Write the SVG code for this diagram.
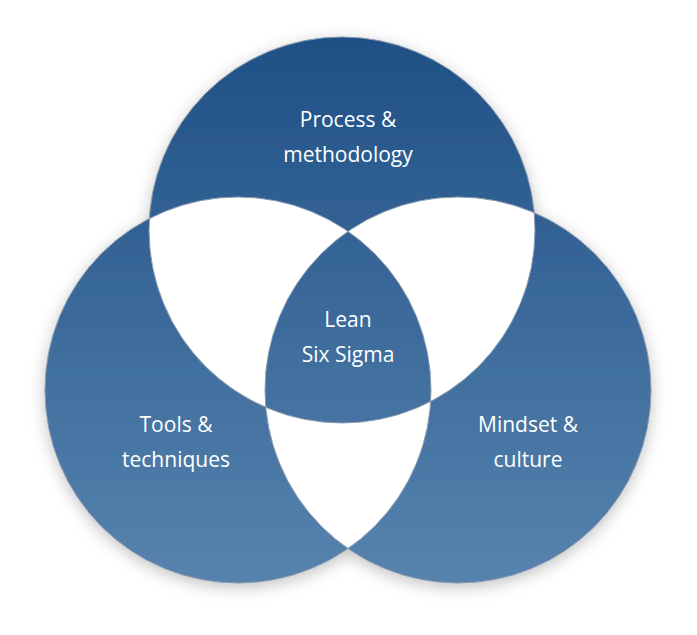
<svg xmlns="http://www.w3.org/2000/svg" width="697" height="635" viewBox="0 0 697 635">
<style>
.t{fill:#fff;font-family:"Open Sans","DejaVu Sans",sans-serif;font-size:21px;text-anchor:middle}
.o{fill:none;stroke:#8a9bb0;stroke-width:1}
</style>
<defs>
<linearGradient id="g" gradientUnits="userSpaceOnUse" x1="0" y1="38" x2="0" y2="584">
<stop offset="0" stop-color="#1f5086"/><stop offset="1" stop-color="#5783ae"/>
</linearGradient>
<clipPath id="cT"><circle cx="342" cy="230" r="193"/></clipPath>
<clipPath id="cL"><circle cx="238" cy="390" r="193"/></clipPath>
<clipPath id="cR"><circle cx="458" cy="390" r="193"/></clipPath>
<filter id="sh" x="-20%" y="-20%" width="140%" height="140%"><feDropShadow dx="0" dy="4" stdDeviation="8" flood-color="#000" flood-opacity="0.25"/></filter>
</defs>
<g id="venn">
<g filter="url(#sh)">
<circle cx="342" cy="230" r="193" fill="url(#g)"/>
<circle cx="238" cy="390" r="193" fill="url(#g)"/>
<circle cx="458" cy="390" r="193" fill="url(#g)"/>
</g>
<circle cx="342" cy="230" r="193" fill="#fff" clip-path="url(#cL)"/>
<circle cx="342" cy="230" r="193" fill="#fff" clip-path="url(#cR)"/>
<circle cx="238" cy="390" r="193" fill="#fff" clip-path="url(#cR)"/>
<g clip-path="url(#cL)"><circle cx="342" cy="230" r="193" fill="url(#g)" clip-path="url(#cR)"/></g>
<circle class="o" cx="342" cy="230" r="193"/>
<circle class="o" cx="238" cy="390" r="193"/>
<circle class="o" cx="458" cy="390" r="193"/>
</g>
<g id="process"><text class="t" x="348" y="127">Process &amp;</text><text class="t" x="348" y="162">methodology</text></g>
<g id="lss"><text class="t" x="348" y="327">Lean</text><text class="t" x="348" y="362">Six Sigma</text></g>
<g id="tools"><text class="t" x="176" y="432">Tools &amp;</text><text class="t" x="176" y="467">techniques</text></g>
<g id="mindset"><text class="t" x="528" y="432">Mindset &amp;</text><text class="t" x="528" y="467">culture</text></g>
<g id="connectors"/>
</svg>
